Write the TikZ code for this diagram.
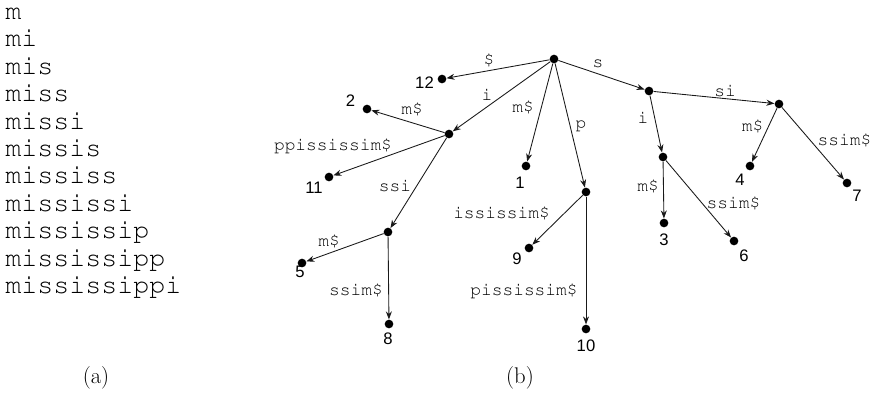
\documentclass[tikz,border=0pt]{standalone}
\usepackage[T1]{fontenc}
\usepackage{fontspec}
\newcommand\courfont{\fontencoding{T1}\fontfamily{pcr}\fontseries{m}\fontshape{n}}
\newfontfamily\helv{Liberation Sans}
\usetikzlibrary{arrows.meta}
\begin{document}
\begin{tikzpicture}[x=0.75pt,y=-0.75pt,
  dot/.style={circle,fill=black,inner sep=0pt,minimum size=6.5pt},
  edge/.style={draw=black!90,line width=0.65pt,-{Stealth[length=6pt,width=4.5pt]}},
  elab/.style={font=\courfont\fontsize{13.4}{14}\selectfont,anchor=base,inner sep=0pt,text=black},
  num/.style={font=\helv\fontsize{12.5}{13}\selectfont,inner sep=0pt},
  listitem/.style={font=\courfont\fontsize{20}{22}\selectfont,anchor=base west,inner sep=0pt},
  captext/.style={font=\fontsize{17}{19}\selectfont,inner sep=0pt}]
\useasboundingbox (0,0) rectangle (874,397);

% (a) list
\node[listitem] (l1)  at (5,19.5) {m};
\node[listitem] (l2)  at (5,46.9) {mi};
\node[listitem] (l3)  at (5,74.3) {mis};
\node[listitem] (l4)  at (5,101.7) {miss};
\node[listitem] (l5)  at (5,129.1) {missi};
\node[listitem] (l6)  at (5,156.5) {missis};
\node[listitem] (l7)  at (5,183.9) {mississ};
\node[listitem] (l8)  at (5,211.3) {mississi};
\node[listitem] (l9)  at (5,238.7) {mississip};
\node[listitem] (l10) at (5,266.1) {mississipp};
\node[listitem] (l11) at (5,293.5) {mississippi};
\node[captext] (capa) at (96,378) {(a)};
\node[captext] (capb) at (520,378) {(b)};

% tree nodes
\node[dot] (root) at (554,59) {};
\node[dot] (n12)  at (442,79) {};
\node[dot] (n2)   at (367,109) {};
\node[dot] (ni)   at (449,134) {};
\node[dot] (n11)  at (329,177) {};
\node[dot] (nssi) at (388,232) {};
\node[dot] (n5)   at (302,263) {};
\node[dot] (n8)   at (389,324) {};
\node[dot] (n1)   at (526,166) {};
\node[dot] (np)   at (586,192) {};
\node[dot] (n9)   at (529,248) {};
\node[dot] (n10)  at (586,329) {};
\node[dot] (ns)   at (649,91) {};
\node[dot] (nsi)  at (779,104) {};
\node[dot] (n4)   at (750,166) {};
\node[dot] (n7)   at (847,183) {};
\node[dot] (nsii) at (663,157) {};
\node[dot] (n3)   at (664,223) {};
\node[dot] (n6)   at (734,241) {};

% leaf numbers
\node[num] (t12) at (424.5,82.5) {12};
\node[num] (t2)  at (350.5,100.5) {2};
\node[num] (t11) at (314,187.5) {11};
\node[num] (t5)  at (300,272) {5};
\node[num] (t8)  at (388,339) {8};
\node[num] (t1)  at (520,183) {1};
\node[num] (t9)  at (517,259) {9};
\node[num] (t10) at (586,345.5) {10};
\node[num] (t4)  at (740,180) {4};
\node[num] (t7)  at (857,196) {7};
\node[num] (t3)  at (664,240) {3};
\node[num] (t6)  at (744,256) {6};

% edges
\draw[edge] (root) -- (n12);
\draw[edge] (root) -- (ni);
\draw[edge] (root) -- (n1);
\draw[edge] (root) -- (np);
\draw[edge] (root) -- (ns);
\draw[edge] (ni) -- (n2);
\draw[edge] (ni) -- (n11);
\draw[edge] (ni) -- (nssi);
\draw[edge] (nssi) -- (n5);
\draw[edge] (nssi) -- (n8);
\draw[edge] (np) -- (n9);
\draw[edge] (np) -- (n10);
\draw[edge] (ns) -- (nsi);
\draw[edge] (ns) -- (nsii);
\draw[edge] (nsi) -- (n4);
\draw[edge] (nsi) -- (n7);
\draw[edge] (nsii) -- (n3);
\draw[edge] (nsii) -- (n6);

% edge labels
\node[elab] (e1)  at (489,65) {\$};
\node[elab] (e2)  at (598,67) {s};
\node[elab] (e3)  at (487,100) {i};
\node[elab] (e4)  at (523,112) {m\$};
\node[elab] (e5)  at (581,128) {p};
\node[elab] (e6)  at (412,114) {m\$};
\node[elab] (e7)  at (333,150) {ppississim\$};
\node[elab] (e8)  at (395,191) {ssi};
\node[elab] (e9)  at (329,246) {m\$};
\node[elab] (e10) at (356,295) {ssim\$};
\node[elab] (e11) at (501.5,218) {ississim\$};
\node[elab] (e12) at (524,295) {pississim\$};
\node[elab] (e13) at (643,123) {i};
\node[elab] (e14) at (725,96) {si};
\node[elab] (e15) at (648,191) {m\$};
\node[elab] (e16) at (733.5,208) {ssim\$};
\node[elab] (e17) at (752.7,131) {m\$};
\node[elab] (e18) at (844.5,145) {ssim\$};
\end{tikzpicture}
\end{document}
